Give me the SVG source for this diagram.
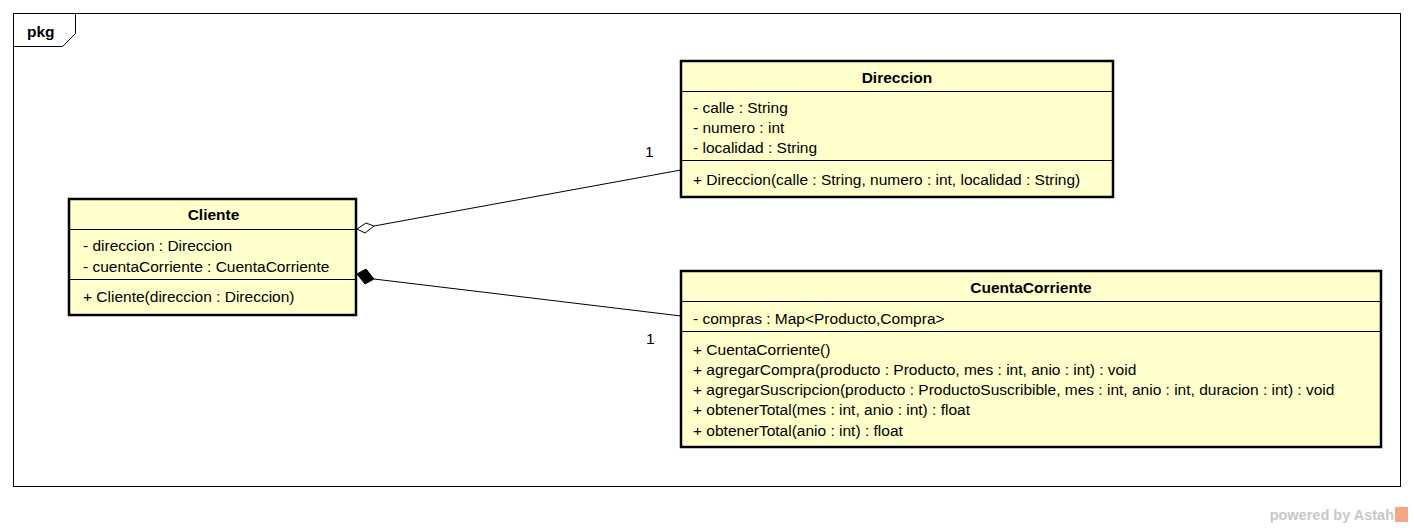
<svg xmlns="http://www.w3.org/2000/svg" width="1414" height="528" viewBox="0 0 1414 528">
<style>
.box{fill:#ffffcc;stroke:#000;stroke-width:2.5}
.sep{stroke:#000;stroke-width:1}
.t{font-family:"Liberation Sans",Arial,sans-serif;font-size:15.5px;fill:#000}
.b{font-weight:bold;text-anchor:middle}
.ln{stroke:#000;stroke-width:1;fill:none}
</style>
<rect x="0" y="0" width="1414" height="528" fill="#fff"/>
<g id="frame">
<rect x="13.5" y="13.5" width="1387" height="473" fill="none" stroke="#000" stroke-width="1"/>
<path d="M13.5 46.5 H62.5 L75.5 33.5 V13.5" fill="none" stroke="#000" stroke-width="1"/>
<text class="t" x="27" y="37" font-weight="bold" font-size="16.5px">pkg</text>
</g>
<g id="connectors">
<line class="ln" x1="374" y1="226" x2="681" y2="170"/>
<path d="M357 229 L366 223 L374 226 L365 233 Z" fill="#fff" stroke="#000" stroke-width="1"/>
<line class="ln" x1="374" y1="279" x2="681" y2="316"/>
<path d="M357 274 L366 269 L374 279 L365 284 Z" fill="#000" stroke="#000" stroke-width="1"/>
<text class="t" x="645" y="157">1</text>
<text class="t" x="646" y="344">1</text>
</g>
<g id="Cliente">
<rect class="box" x="69" y="199" width="287" height="116"/>
<line class="sep" x1="69" y1="229.5" x2="356" y2="229.5"/>
<line class="sep" x1="69" y1="279.5" x2="356" y2="279.5"/>
<text class="t b" x="213.5" y="220">Cliente</text>
<text class="t" x="83" y="251">- direccion : Direccion</text>
<text class="t" x="83" y="272">- cuentaCorriente : CuentaCorriente</text>
<text class="t" x="83" y="302">+ Cliente(direccion : Direccion)</text>
</g>
<g id="Direccion">
<rect class="box" x="681" y="61" width="432" height="136"/>
<line class="sep" x1="681" y1="91.5" x2="1113" y2="91.5"/>
<line class="sep" x1="681" y1="160.5" x2="1113" y2="160.5"/>
<text class="t b" x="897" y="83">Direccion</text>
<text class="t" x="693" y="113">- calle : String</text>
<text class="t" x="693" y="133">- numero : int</text>
<text class="t" x="693" y="153">- localidad : String</text>
<text class="t" x="693" y="185">+ Direccion(calle : String, numero : int, localidad : String)</text>
</g>
<g id="CuentaCorriente">
<rect class="box" x="681" y="271" width="700" height="176"/>
<line class="sep" x1="681" y1="301.5" x2="1381" y2="301.5"/>
<line class="sep" x1="681" y1="331.5" x2="1381" y2="331.5"/>
<text class="t b" x="1031" y="293">CuentaCorriente</text>
<text class="t" x="693" y="324">- compras : Map&lt;Producto,Compra&gt;</text>
<text class="t" x="693" y="355">+ CuentaCorriente()</text>
<text class="t" x="693" y="375">+ agregarCompra(producto : Producto, mes : int, anio : int) : void</text>
<text class="t" x="693" y="395">+ agregarSuscripcion(producto : ProductoSuscribible, mes : int, anio : int, duracion : int) : void</text>
<text class="t" x="693" y="415">+ obtenerTotal(mes : int, anio : int) : float</text>
<text class="t" x="693" y="436">+ obtenerTotal(anio : int) : float</text>
</g>
<g id="watermark">
<text x="1394" y="520" text-anchor="end" font-family="Liberation Sans,Arial,sans-serif" font-size="14.5" font-weight="bold" fill="#c8c8c8">powered by Astah</text>
<rect x="1395" y="507" width="13" height="15" fill="#f4a582"/>
</g>
</svg>
